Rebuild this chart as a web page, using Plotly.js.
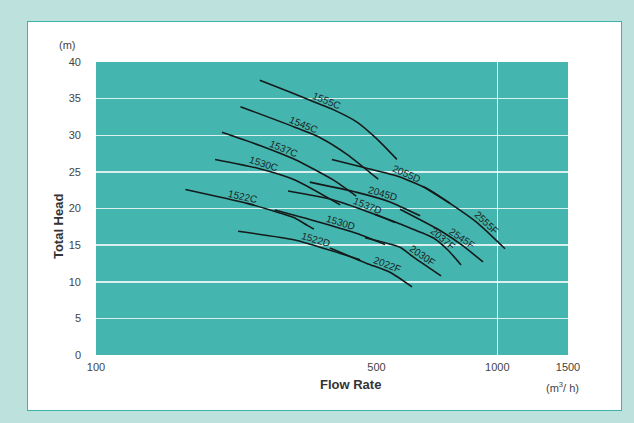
<!DOCTYPE html>
<html>
<head>
<meta charset="utf-8">
<script src="https://cdn.plot.ly/plotly-3.0.1.min.js"></script>
<style>
html,body{margin:0;padding:0;background:#bde2de;width:634px;height:423px;overflow:hidden;}
#frame{position:absolute;left:27px;top:21px;width:593px;height:388px;border:1px solid #3fb3aa;background:#ffffff;}
#chart{position:absolute;left:0;top:0;width:593px;height:388px;}
</style>
</head>
<body>
<div id="frame"><div id="chart"></div></div>
<script>
// ---- data (flow rate m3/h, total head m) ----
const seriesNames = ["1555C","1545C","1537C","1530C","1522C","2055D","2045D","1537D","1530D","1522D","2555F","2545F","2037F","2030F","2022F"];

const q1555C = [256,304,351,390,447,501,562];
const h1555C = [37.5,35.9,34.5,33.5,31.8,29.5,26.7];
const q1545C = [229,313,361,422,505];
const h1545C = [33.9,31.1,29.7,27.4,24.0];
const q1537C = [206,256,313,390,445];
const h1537C = [30.4,28.6,26.7,23.9,21.7];
const q1530C = [198,253,313,406];
const h1530C = [26.7,25.5,23.9,20.5];
const q1522C = [167,238,287,313,336,349];
const h1522C = [22.6,20.7,19.4,18.7,17.7,17.2];
const q2055D = [387,465,572,679,762];
const h2055D = [26.7,25.6,24.3,22.5,20.7];
const q2045D = [341,447,540,642];
const h2045D = [23.6,22.2,20.9,19.0];
const q1537D = [301,383,463,556];
const h1537D = [22.4,21.3,19.8,18.1];
const q1530D = [279,368,447,525];
const h1530D = [19.8,18.0,16.6,15.1];
const q1522D = [226,313,383,455];
const h1522D = [16.9,15.7,14.3,13.0];
const q2555F = [653,762,889,1045];
const h2555F = [23.0,20.7,18.1,14.5];
const q2545F = [572,720,817,921];
const h2545F = [19.9,17.0,15.0,12.7];
const q2037F = [496,589,692,754,812];
const h2037F = [19.2,17.6,16.0,14.3,12.3];
const q2030F = [468,572,617,724];
const h2030F = [16.0,14.7,13.4,10.8];
const q2022F = [383,473,540,613];
const h2022F = [14.6,12.5,11.3,9.3];

// flow at which each curve's label sits
const labelFlow = [370,324,289,258,230,585,513,468,403,349,916,803,716,638,525];

const xTickVals = [100,500,1000,1500];
const yTickVals = [0,5,10,15,20,25,30,35,40];
const flowRange = [100,1500];
const headRange = [0,40];

const flows = [q1555C,q1545C,q1537C,q1530C,q1522C,q2055D,q2045D,q1537D,q1530D,q1522D,q2555F,q2545F,q2037F,q2030F,q2022F];
const heads = [h1555C,h1545C,h1537C,h1530C,h1522C,h2055D,h2045D,h1537D,h1530D,h1522D,h2555F,h2545F,h2037F,h2030F,h2022F];

// ---- layout geometry ----
const W = 593, H = 388;
const M = {l:68, r:53, t:40, b:55, pad:0};
const plotW = W - M.l - M.r, plotH = H - M.t - M.b;
const lx0 = Math.log10(flowRange[0]), lx1 = Math.log10(flowRange[1]);
const pxPerDec = plotW / (lx1 - lx0);
const pxPerM = plotH / (headRange[1] - headRange[0]);

const traces = seriesNames.map((n,i)=>({
  type:'scatter', mode:'lines', name:n,
  x: flows[i], y: heads[i],
  line:{color:'#151a1a', width:1.6, shape:'spline', smoothing:0.6},
  hoverinfo:'skip', showlegend:false
}));

// empty trace carrying the extra x gridline axis
traces.push({type:'scatter', x:[], y:[], xaxis:'x2', yaxis:'y', showlegend:false});

function interp(qs, hs, q){
  const lq = Math.log10(q);
  for(let k=0;k<qs.length-1;k++){
    const a=Math.log10(qs[k]), b=Math.log10(qs[k+1]);
    if(lq>=a && lq<=b){
      const t=(lq-a)/(b-a);
      return {h: hs[k]+t*(hs[k+1]-hs[k]), dl:b-a, dh:hs[k+1]-hs[k]};
    }
  }
  const k=qs.length-2;
  return {h:hs[k+1], dl:Math.log10(qs[k+1])-Math.log10(qs[k]), dh:hs[k+1]-hs[k]};
}

const labelFont = {family:'"Liberation Sans", Arial, sans-serif', size:10, color:'#1b2626'};
const annotations = seriesNames.map((n,i)=>{
  const r = interp(flows[i], heads[i], labelFlow[i]);
  const dx = r.dl*pxPerDec, dy = -r.dh*pxPerM;
  const th = Math.atan2(dy, dx);
  const d = 6;
  return {
    xref:'x', yref:'y', x: Math.log10(labelFlow[i]), y: r.h,
    xanchor:'center', yanchor:'middle',
    text:n, showarrow:false, textangle: th*180/Math.PI,
    xshift: d*Math.sin(th), yshift: d*Math.cos(th),
    font: labelFont
  };
});

const titleFont = {family:'Arial, "Liberation Sans", sans-serif', size:13, color:'#333333'};
const smallFont = {family:'Arial, "Liberation Sans", sans-serif', size:11, color:'#444444'};
annotations.push(
  {xref:'paper', yref:'paper', x:-0.0805, y:0.44, xanchor:'center', yanchor:'middle', text:'<b>Total Head</b>', textangle:-90, showarrow:false, font:titleFont},
  {xref:'paper', yref:'paper', x:-0.061, y:1.058, xanchor:'center', yanchor:'middle', text:'(m)', showarrow:false, font:smallFont},
  {xref:'paper', yref:'paper', x:0.54, y:-0.099, xanchor:'center', yanchor:'middle', text:'<b>Flow Rate</b>', showarrow:false, font:titleFont},
  {xref:'paper', yref:'paper', x:0.989, y:-0.109, xanchor:'center', yanchor:'middle', text:'(m<sup>3</sup>/ h)', showarrow:false, font:smallFont}
);

const layout = {
  width:W, height:H, margin:M,
  paper_bgcolor:'rgba(0,0,0,0)', plot_bgcolor:'#44b5af',
  showlegend:false,
  xaxis:{type:'log', range:[lx0,lx1], tickvals:xTickVals, ticktext:xTickVals.map(String),
    showgrid:false, zeroline:false, showline:false, ticks:'', ticklabelstandoff:4,
    tickfont:{family:'Arial, "Liberation Sans", sans-serif', size:11, color:'#444'}},
  xaxis2:{type:'log', range:[lx0,lx1], overlaying:'x', tickvals:[1000], showticklabels:false,
    showgrid:true, gridcolor:'rgba(255,255,255,0.85)', gridwidth:1.5, zeroline:false, showline:false, ticks:''},
  yaxis:{range:headRange, tickvals:yTickVals, showgrid:true, gridcolor:'rgba(255,255,255,0.8)', gridwidth:1.5,
    zeroline:false, showline:false, ticks:'', ticklabelstandoff:14,
    tickfont:{family:'Arial, "Liberation Sans", sans-serif', size:11, color:'#444'}},
  annotations:annotations
};

Plotly.newPlot('chart', traces, layout, {staticPlot:true, displayModeBar:false});
</script>
</body>
</html>
